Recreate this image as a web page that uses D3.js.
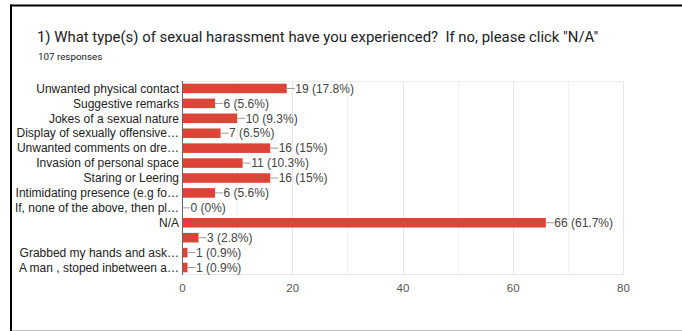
<!DOCTYPE html>
<html><head><meta charset="utf-8">
<script src="https://cdn.jsdelivr.net/npm/d3@7"></script>
<style>body{margin:0;background:#fff;}svg{display:block;}text{white-space:pre;}</style>
</head><body>
<script>
const categories = ["Unwanted physical contact","Suggestive remarks","Jokes of a sexual nature","Display of sexually offensive\u2026","Unwanted comments on dre\u2026","Invasion of personal space","Staring or Leering","Intimidating presence (e.g fo\u2026","If, none of the above, then pl\u2026","N/A","","Grabbed my hands and ask\u2026","A man , stoped inbetween a\u2026"];
const counts = [19,6,10,7,16,11,16,6,0,66,3,1,1];
const percents = ["17.8%","5.6%","9.3%","6.5%","15%","10.3%","15%","5.6%","0%","61.7%","2.8%","0.9%","0.9%"];
const xTicks = [0,20,40,60,80];
const title = '1) What type(s) of sexual harassment have you experienced?  If no, please click "N/A"';
const subtitle = "107 responses";

const W=682,H=331;
const svg=d3.select("body").append("svg").attr("width",W).attr("height",H);
// frame
svg.append("rect").attr("x",0).attr("y",0).attr("width",W).attr("height",H).attr("fill","#fff");
svg.append("line").attr("x1",10).attr("x2",W).attr("y1",5.5).attr("y2",5.5).attr("stroke","#000").attr("stroke-width",2);
svg.append("line").attr("x1",11).attr("x2",11).attr("y1",4.5).attr("y2",H).attr("stroke","#000").attr("stroke-width",2);
svg.append("line").attr("x1",12).attr("x2",W).attr("y1",330.5).attr("y2",330.5).attr("stroke","#bbb").attr("stroke-width",1);

svg.append("text").attr("x",37).attr("y",42).attr("xml:space","preserve").attr("font-family","Roboto, Arial, sans-serif").attr("font-size",14.9).attr("fill","#202124").text(title);
svg.append("text").attr("x",38).attr("y",60).attr("font-family","Roboto, Arial, sans-serif").attr("font-size",9.8).attr("fill","#202124").text(subtitle);

const x=d3.scaleLinear().domain([0,80]).range([182,623]);
const y=d3.scaleBand().domain(d3.range(categories.length)).range([81,275]).paddingInner(0.36).paddingOuter(0.18);

// grid
const grid=svg.append("g");
grid.selectAll("line.g").data(d3.range(10,81,10)).join("line")
 .attr("x1",d=>Math.round(x(d))+0.5).attr("x2",d=>Math.round(x(d))+0.5)
 .attr("y1",81).attr("y2",275).attr("stroke",d=>d%20===0?"#e6e6e6":"#f2f2f2");
grid.append("line").attr("x1",182).attr("x2",623).attr("y1",81.5).attr("y2",81.5).attr("stroke","#eeeeee");
grid.append("line").attr("x1",182).attr("x2",623).attr("y1",274.5).attr("y2",274.5).attr("stroke","#e6e6e6");

// bars
svg.append("g").selectAll("rect").data(counts).join("rect")
 .attr("x",x(0)).attr("y",(d,i)=>y(i)).attr("width",d=>x(d)-x(0)).attr("height",y.bandwidth())
 .attr("fill","#db4437");

// axis line
svg.append("line").attr("x1",182.5).attr("x2",182.5).attr("y1",81).attr("y2",275).attr("stroke","#666");

// category labels
svg.append("g").selectAll("text").data(categories).join("text")
 .attr("x",179).attr("y",(d,i)=>y(i)+y.bandwidth()/2).attr("dy","0.35em").attr("text-anchor","end")
 .attr("font-family","Arial, 'Liberation Sans', sans-serif").attr("font-size",12).attr("fill","#222").text(d=>d);

// value labels with leader lines
const vl=svg.append("g");
vl.selectAll("line").data(counts).join("line")
 .attr("x1",d=>x(d)).attr("x2",d=>x(d)+8).attr("y1",(d,i)=>y(i)+y.bandwidth()/2).attr("y2",(d,i)=>y(i)+y.bandwidth()/2)
 .attr("stroke","#999").attr("stroke-width",1);
vl.selectAll("text").data(counts).join("text")
 .attr("x",d=>x(d)+8.5).attr("y",(d,i)=>y(i)+y.bandwidth()/2).attr("dy","0.35em")
 .attr("font-family","Arial, 'Liberation Sans', sans-serif").attr("font-size",12).attr("fill","#444")
 .text((d,i)=>d+" ("+percents[i]+")");

// x axis
const xa=svg.append("g").attr("transform","translate(0,275)").call(d3.axisBottom(x).tickValues(xTicks).tickSize(0).tickPadding(9).tickFormat(d3.format("d")));
xa.select(".domain").remove();
xa.selectAll("text").attr("font-family","Arial, 'Liberation Sans', sans-serif").attr("font-size",11.5).attr("fill","#555");
</script>
</body></html>
